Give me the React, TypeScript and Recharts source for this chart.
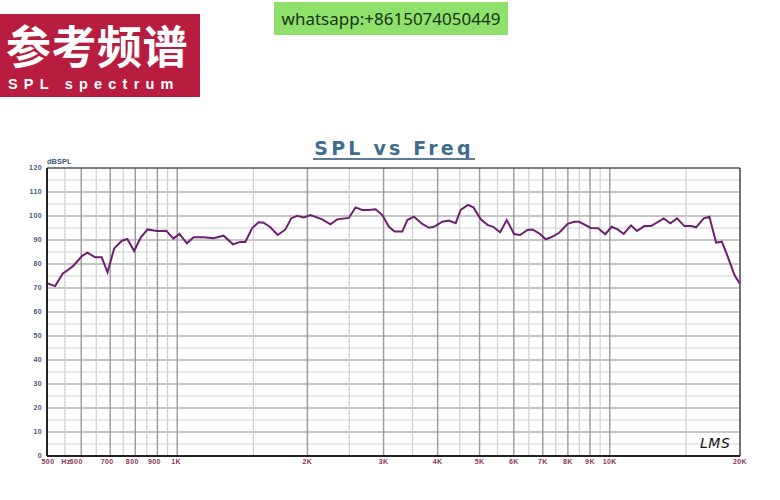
import { LineChart, Line, XAxis, YAxis, ReferenceLine } from "recharts";

const freqs = [
  500, 522, 544, 555, 575, 602, 620, 646, 669, 690, 715, 745, 767, 795, 824, 854, 897, 943, 980,
  1012, 1053, 1091, 1150, 1213, 1280, 1346, 1399, 1437, 1489, 1543, 1584, 1642, 1707, 1779, 1834,
  1893, 1961, 2032, 2163, 2261, 2343, 2493, 2584, 2678, 2773, 2874, 2979, 3086, 3181, 3314, 3404,
  3525, 3687, 3819, 3922, 4102, 4248, 4403, 4522, 4701, 4838, 5032, 5215, 5373, 5577, 5780, 6008,
  6203, 6453, 6627, 6864, 7114, 7373, 7638, 7988, 8274, 8497, 9044, 9403, 9760, 10099, 10428,
  10768, 11194, 11558, 12017, 12454, 13326, 13803, 14306, 14873, 15414, 15830, 16492, 16994,
  17612, 18156, 18747, 19419, 20000,
];

const spl = [
  72.0, 70.8, 76.1, 77.1, 79.2, 83.3, 84.7, 82.8, 82.8, 76.5, 86.5, 89.7, 90.4, 85.4, 91.1, 94.4,
  93.8, 93.9, 90.6, 92.5, 88.6, 91.1, 91.1, 90.7, 91.8, 88.2, 89.2, 89.2, 94.9, 97.4, 97.2, 95.3,
  92.1, 94.4, 99.0, 100.1, 99.4, 100.4, 98.6, 96.5, 98.6, 99.2, 103.6, 102.5, 102.5, 102.8, 100.4,
  95.5, 93.5, 93.5, 98.3, 99.7, 96.7, 95.1, 95.5, 97.6, 98.1, 97.0, 102.5, 104.6, 103.6, 98.6,
  96.3, 95.5, 93.2, 98.3, 92.5, 92.1, 94.2, 94.4, 92.8, 90.3, 91.4, 93.0, 96.7, 97.6, 97.6, 95.0,
  94.9, 92.4, 95.5, 94.4, 92.5, 96.1, 93.75, 95.8, 95.8, 99.0, 97.0, 99.0, 95.8, 95.8, 95.3, 99.0,
  99.7, 88.9, 89.3, 83.0, 75.4, 71.7,
];

// labelled frequency ticks
const xTicks = [500, 550, 600, 700, 800, 900, 1000, 2000, 3000, 4000, 5000, 6000, 7000, 8000, 9000, 10000, 20000];
const xLabels = ["500", "Hz", "600", "700", "800", "900", "1K", "2K", "3K", "4K", "5K", "6K", "7K", "8K", "9K", "10K", "20K"];

const yTicks = [0, 10, 20, 30, 40, 50, 60, 70, 80, 90, 100, 110, 120];

// grid lines
const majorFreqs = [600, 700, 800, 900, 1000, 2000, 3000, 4000, 5000, 6000, 7000, 8000, 9000, 10000];
const minorFreqs = [550, 650, 750, 850, 950, 1500, 2500, 3500, 4500, 5500, 6500, 7500, 8500, 9500, 15000];
const majorLevels = [10, 20, 30, 40, 50, 60, 70, 80, 90, 100, 110];
const minorLevels = [5, 15, 25, 35, 45, 55, 65, 75, 85, 95, 105, 115];

const data = freqs.map((f, i) => ({ f, spl: spl[i] }));

const XTick = (props: any) => {
  const { x, y, payload } = props;
  const idx = xTicks.indexOf(payload.value);
  const v = payload.value;
  let dx = 0;
  if (v === 500) dx = 1;
  else if (v === 550) dx = 1;
  else if (v === 600) dx = -5;
  else if (v > 600 && v < 1000) dx = -3;
  else if (v === 1000) dx = -1;
  return (
    <text
      x={x + dx}
      y={y}
      dy={6}
      textAnchor="middle"
      fill="#8a3558"
      fontSize={7}
      fontWeight="bold"
      fontFamily="Liberation Sans"
      letterSpacing={0.4}
    >
      {xLabels[idx]}
    </text>
  );
};

export default function App() {
  return (
    <div style={{ position: "absolute", left: 0, top: 0, width: 780, height: 500, background: "#fff", overflow: "hidden" }}>
      <div
        style={{
          position: "absolute",
          left: 0,
          top: 14,
          width: 200,
          height: 83,
          background: "#b81d3f",
          color: "#fff",
        }}
      >
        <div
          style={{
            position: "absolute",
            left: 6,
            top: 5,
            fontFamily: "Noto Sans CJK SC",
            fontWeight: 700,
            fontSize: 45,
            lineHeight: "52px",
            letterSpacing: 0.5,
          }}
        >
          参考频谱
        </div>
        <div
          style={{
            position: "absolute",
            left: 8,
            top: 62,
            fontFamily: "Liberation Sans",
            fontWeight: 700,
            fontSize: 14.5,
            lineHeight: "17px",
            letterSpacing: 6.2,
          }}
        >
          SPL spectrum
        </div>
      </div>
      <div
        style={{
          position: "absolute",
          left: 274,
          top: 2,
          width: 234,
          height: 33,
          background: "#8fe16c",
          color: "#163416",
          fontFamily: "Noto Sans",
          fontSize: 17,
          lineHeight: "33px",
          textAlign: "center",
        }}
      >
        whatsapp:+8615074050449
      </div>

      <LineChart
        width={780}
        height={500}
        data={data}
        margin={{ top: 168, right: 40, left: 17, bottom: 24 }}
        style={{ position: "absolute", left: 0, top: 0 }}
      >
        {minorLevels.map((v) => (
          <ReferenceLine key={"hy" + v} y={v} stroke="#d2d2d2" strokeWidth={1} />
        ))}
        {majorLevels.map((v) => (
          <ReferenceLine key={"my" + v} y={v} stroke="#b4b4b4" strokeWidth={1.6} />
        ))}
        {minorFreqs.map((v) => (
          <ReferenceLine key={"hx" + v} x={v} stroke="#d0d0d0" strokeWidth={1.2} />
        ))}
        {majorFreqs.map((v) => (
          <ReferenceLine key={"mx" + v} x={v} stroke="#9a9a9a" strokeWidth={1.4} />
        ))}
        <ReferenceLine y={120} stroke="#555" strokeWidth={1.5} />
        <ReferenceLine x={20000} stroke="#444" strokeWidth={1.5} />
        <XAxis
          dataKey="f"
          type="number"
          scale="log"
          domain={[500, 20000]}
          ticks={xTicks}
          interval={0}
          allowDataOverflow
          height={20}
          tickLine={false}
          tickSize={0}
          tickMargin={2}
          axisLine={{ stroke: "#222", strokeWidth: 2 }}
          tick={<XTick />}
        />
        <YAxis
          type="number"
          domain={[0, 120]}
          ticks={yTicks}
          interval={0}
          width={30}
          tickLine={false}
          tickSize={0}
          tickMargin={5}
          axisLine={{ stroke: "#222", strokeWidth: 2 }}
          tick={{ fill: "#42597a", fontSize: 7, fontWeight: "bold", fontFamily: "Liberation Sans", letterSpacing: 0.4 }}
        />
        <Line
          type="linear"
          dataKey="spl"
          stroke="#6d1f72"
          strokeWidth={2}
          dot={false}
          isAnimationActive={false}
        />
      </LineChart>

      <div
        style={{
          position: "absolute",
          left: 300,
          top: 137,
          width: 188,
          textAlign: "center",
          fontFamily: "DejaVu Sans",
          fontWeight: 700,
          fontSize: 19,
          lineHeight: "22px",
          letterSpacing: 3.2,
          color: "#3f6d8d",
        }}
      >
        SPL vs Freq
      </div>
      <div style={{ position: "absolute", left: 313, top: 158, width: 162, height: 2, background: "#5b7d96" }} />
      <div
        style={{
          position: "absolute",
          left: 47,
          top: 157,
          fontFamily: "Liberation Sans",
          fontWeight: 700,
          fontSize: 7.5,
          lineHeight: "9px",
          color: "#42597a",
        }}
      >
        dBSPL
      </div>
      <div
        style={{
          position: "absolute",
          left: 700,
          top: 434,
          fontFamily: "DejaVu Sans",
          fontStyle: "italic",
          fontSize: 14,
          lineHeight: "18px",
          color: "#111",
          letterSpacing: 0.5,
        }}
      >
        LMS
      </div>
    </div>
  );
}
